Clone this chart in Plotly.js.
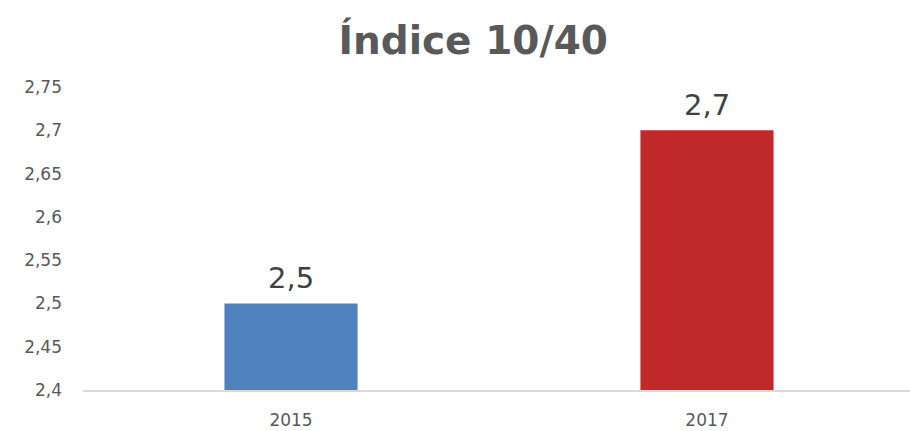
<!DOCTYPE html>
<html>
<head>
<meta charset="utf-8">
<script src="https://cdn.plot.ly/plotly-3.0.1.min.js"></script>
<style>html,body{margin:0;padding:0;background:#fff;}#chart{width:910px;height:431px;}</style>
</head>
<body>
<div id="chart"></div>
<script>
const categories = ['2015', '2017'];
const values = [2.5, 2.7];
const barColors = ['#4F81BD', '#C0282A'];
const chartTitle = 'Índice 10/40';

const trace = {
  type: 'bar',
  x: categories,
  y: values,
  marker: {color: barColors},
  width: 0.32,
  hoverinfo: 'none'
};

const valueLabels = categories.map((c, i) => ({
  x: i, y: values[i], xref: 'x', yref: 'y',
  text: String(values[i]).replace('.', ','),
  showarrow: false, yanchor: 'bottom', yshift: 6,
  font: {family: 'DejaVu Sans', size: 29, color: '#404040'}
}));

const layout = {
  width: 910, height: 431,
  margin: {l: 83, r: 0, t: 87, b: 41},
  paper_bgcolor: '#fff', plot_bgcolor: '#fff',
  separators: ',.',
  showlegend: false,
  title: {
    text: '<b>' + chartTitle + '</b>',
    x: 0.52, xanchor: 'center', y: 0.907, yanchor: 'middle',
    font: {family: 'DejaVu Sans', size: 39, color: '#595959'}
  },
  annotations: valueLabels,
  xaxis: {
    type: 'category',
    range: [-0.5, 1.488],
    showline: true, linecolor: '#D9D9D9', linewidth: 2,
    ticks: '', showgrid: false, zeroline: false,
    ticklabelstandoff: 14,
    tickfont: {family: 'DejaVu Sans', size: 17, color: '#595959'}
  },
  yaxis: {
    range: [2.4, 2.75],
    dtick: 0.05, tick0: 2.4,
    showgrid: false, zeroline: false, showline: false,
    ticks: '',
    ticklabelstandoff: 20,
    tickfont: {family: 'DejaVu Sans', size: 17, color: '#595959'}
  }
};

Plotly.newPlot('chart', [trace], layout, {displayModeBar: false, staticPlot: true});
</script>
</body>
</html>
